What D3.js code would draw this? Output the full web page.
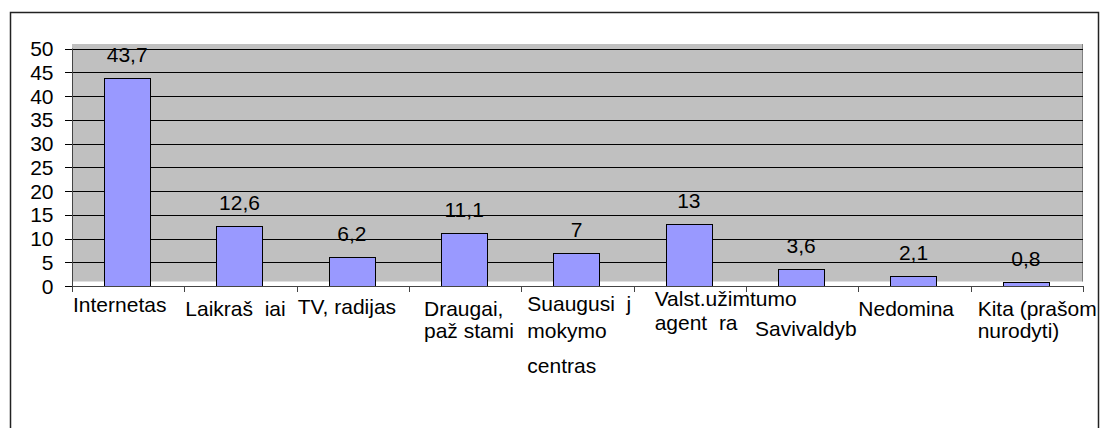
<!DOCTYPE html>
<html>
<head>
<meta charset="utf-8">
<script src="https://cdn.jsdelivr.net/npm/d3@7"></script>
<style>
  body { margin: 0; background: #fff; }
  text { font-family: Arial, 'Liberation Sans', sans-serif; font-size: 21px; fill: #000; }
</style>
</head>
<body>
<svg id="viz"></svg>
<script>
// data
const categoryLines = [
  ['Internetas'],
  ['Laikraš\u00a0\u00a0iai'],
  ['TV, radijas'],
  ['Draugai,', 'paž stami'],
  ['Suaugusi\u00a0\u00a0j', 'mokymo', 'centras'],
  ['Valst.užimtumo', 'agent\u00a0\u00a0ra'],
  ['Savivaldyb'],
  ['Nedomina'],
  ['Kita (prašom', 'nurodyti)']
]
const values = [43.7, 12.6, 6.2, 11.1, 7, 13, 3.6, 2.1, 0.8]
const yTicks = [0, 5, 10, 15, 20, 25, 30, 35, 40, 45, 50]

// where each category label sits (offset from band start, baselines)
const labelLayout = [
  { dx: 1, y: [312] },
  { dx: 1, y: [316] },
  { dx: 1, y: [314] },
  { dx: 15, y: [316, 338] },
  { dx: 6, y: [311, 338, 373] },
  { dx: 21, y: [306, 330] },
  { dx: 9, y: [336] },
  { dx: 0, y: [316] },
  { dx: 7, y: [316, 338] }
]

const width = 1101
const height = 428
const plot = { left: 72, right: 1083, top: 48.5, bottom: 286 }

const svg = d3.select('#viz').attr('width', width).attr('height', height)

const x = d3
  .scaleBand()
  .domain(d3.range(values.length))
  .range([plot.left, plot.right])
  .padding(0)

const y = d3.scaleLinear().domain([0, 50]).range([plot.bottom, plot.top])

const barWidth = x.bandwidth() * 0.41
const fmt = (v) => String(v).replace('.', ',')

// outer frame
svg
  .append('rect')
  .attr('x', 10.5)
  .attr('y', 12.5)
  .attr('width', 1088)
  .attr('height', 600)
  .attr('fill', '#fff')
  .attr('stroke', '#222')
  .attr('stroke-width', 1.5)

// grey plot area, shifted up a bit like the original
const shift = 4.5
svg
  .append('rect')
  .attr('x', plot.left)
  .attr('y', y(50) - shift)
  .attr('width', plot.right - plot.left)
  .attr('height', y(0) - y(50))
  .attr('fill', '#c0c0c0')

svg
  .append('line')
  .attr('x1', plot.right - 0.5)
  .attr('x2', plot.right - 0.5)
  .attr('y1', y(50) - shift)
  .attr('y2', y(0) - shift)
  .attr('stroke', '#808080')

// value labels (under gridlines)
svg
  .append('g')
  .selectAll('text')
  .data(values)
  .join('text')
  .attr('x', (d, i) => x(i) + x.bandwidth() / 2 - 1)
  .attr('y', (d) => y(d) - 16)
  .attr('text-anchor', 'middle')
  .text((d) => fmt(d))

// gridlines
svg
  .append('g')
  .selectAll('line')
  .data(yTicks.filter((d) => d > 0))
  .join('line')
  .attr('x1', plot.left)
  .attr('x2', plot.right)
  .attr('y1', (d) => Math.round(y(d)) + 0.5)
  .attr('y2', (d) => Math.round(y(d)) + 0.5)
  .attr('stroke', '#000')
  .attr('stroke-width', 1)

// bars
svg
  .append('g')
  .selectAll('rect')
  .data(values)
  .join('rect')
  .attr('x', (d, i) => Math.round(x(i) + (x.bandwidth() - barWidth) / 2) - 0.5)
  .attr('y', (d) => Math.round(y(d)) + 0.5)
  .attr('width', Math.round(barWidth))
  .attr('height', (d) => Math.round(y(0)) - Math.round(y(d)))
  .attr('fill', '#9999ff')
  .attr('stroke', '#000')
  .attr('stroke-width', 1)

// y axis
const yAxis = svg.append('g')
yAxis
  .append('line')
  .attr('x1', plot.left + 0.5)
  .attr('x2', plot.left + 0.5)
  .attr('y1', y(50))
  .attr('y2', y(0))
  .attr('stroke', '#444')
yAxis
  .selectAll('.tick')
  .data(yTicks)
  .join('line')
  .attr('class', 'tick')
  .attr('x1', plot.left - 7)
  .attr('x2', plot.left)
  .attr('y1', (d) => Math.round(y(d)) + 0.5)
  .attr('y2', (d) => Math.round(y(d)) + 0.5)
  .attr('stroke', '#000')
yAxis
  .selectAll('text')
  .data(yTicks)
  .join('text')
  .attr('x', 53.5)
  .attr('y', (d) => y(d))
  .attr('dy', '0.36em')
  .attr('text-anchor', 'end')
  .text((d) => d)

// x axis
const xAxis = svg.append('g')
xAxis
  .append('line')
  .attr('x1', plot.left)
  .attr('x2', plot.right)
  .attr('y1', Math.round(y(0)) + 0.5)
  .attr('y2', Math.round(y(0)) + 0.5)
  .attr('stroke', '#444')
xAxis
  .selectAll('.tick')
  .data(d3.range(values.length + 1))
  .join('line')
  .attr('class', 'tick')
  .attr('x1', (d) => Math.round(plot.left + d * x.step()) + 0.5)
  .attr('x2', (d) => Math.round(plot.left + d * x.step()) + 0.5)
  .attr('y1', y(0))
  .attr('y2', y(0) + 6)
  .attr('stroke', '#444')

// category labels
const labels = xAxis
  .selectAll('.cat')
  .data(categoryLines)
  .join('text')
  .attr('class', 'cat')
  .style('white-space', 'pre')

labels
  .selectAll('tspan')
  .data((d, i) => d.map((line, j) => ({ line, i, j })))
  .join('tspan')
  .attr('x', (d) => x(d.i) + labelLayout[d.i].dx)
  .attr('y', (d) => labelLayout[d.i].y[d.j])
  .text((d) => d.line)
</script>
</body>
</html>
